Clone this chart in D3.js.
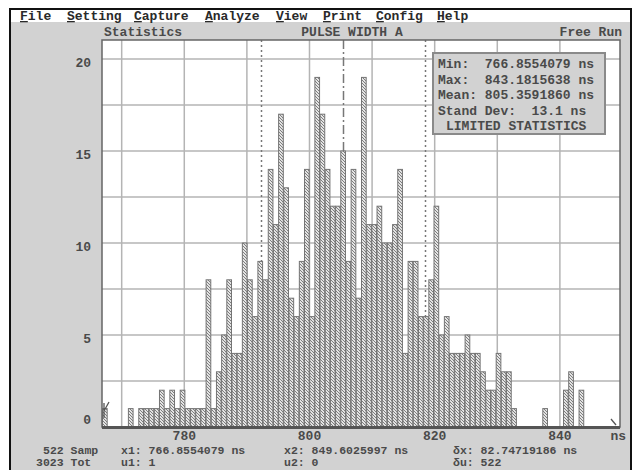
<!DOCTYPE html>
<html><head><meta charset="utf-8">
<script src="https://cdn.jsdelivr.net/npm/d3@7/dist/d3.min.js"></script>
<style>
html,body{margin:0;padding:0;background:#fff;}
svg{display:block;}
text{font-family:"Liberation Mono","DejaVu Sans Mono",monospace;font-size:13px;font-weight:bold;fill:#4a4a4a;}
text.foot{font-size:11.5px;}
</style></head><body>
<svg id="c" width="637" height="470"></svg>
<script>
// ---- data ----
const menuItems = ["File", "Setting", "Capture", "Analyze", "View", "Print", "Config", "Help"];
const menuX = [20, 67, 134, 205, 276, 323, 376, 437];
const cursorX1 = 766.8554079;
const cursorX2 = 849.6025997;
const binsAcross = 100;
// sample counts per bin, starting at cursor x1
const counts = [
  1,0,0,0,0,1,0,1,1,1, 1,2,1,2,1,2,1,1,1,1,
  8,1,3,5,8,4,4,10,8,6, 9,8,14,11,17,13,7,6,9,14,
  6,19,17,14,12,12,15,9,14,7, 19,11,11,12,10,10,11,14,4,9,
  9,6,6,8,12,5,6,4,4,4, 5,4,4,3,2,2,4,3,3,1,
  0,0,0,0,0,1,0,0,0,2, 3,0,2
];
const xTickValues = [780, 800, 820, 840];
const xGridValues = [770, 780, 790, 800, 810, 820, 830, 840];
const yTickValues = [0, 5, 10, 15, 20];
const yGridValues = [2.5, 5, 7.5, 10, 12.5, 15, 17.5, 20];
const statLabels = ["Min:  ", "Max:  ", "Mean: ", "Stand Dev:  "];
const statValues = ["766.8554079", "843.1815638", "805.3591860", "13.1"];
const statMean = 805.3591860;
const statStd = 13.1;
const footRow1 = [["522 Samp", 43], ["x1: 766.8554079 ns", 121], ["x2: 849.6025997 ns", 284], ["δx: 82.74719186 ns", 453]];
const footRow2 = [["3023 Tot", 36], ["u1: 1", 121], ["u2: 0", 284], ["δu: 522", 453]];

// ---- layout ----
const svg = d3.select("#c");
const plot = {left: 102, right: 620, top: 40, bottom: 427};

const x = d3.scaleLinear().domain([cursorX1, cursorX2]).range([plot.left, plot.right]);
const y = d3.scaleLinear().domain([0, 20]).range([plot.bottom, 59]);
const binW = (cursorX2 - cursorX1) / binsAcross;

const defs = svg.append("defs");
const pat = defs.append("pattern").attr("id", "hatch")
  .attr("patternUnits", "userSpaceOnUse").attr("width", 3).attr("height", 3);
pat.append("rect").attr("width", 3).attr("height", 3).attr("fill", "#e4e4e4");
pat.append("path").attr("d", "M-1,-1 L4,4 M-1,2 L1,4 M2,-1 L4,1")
  .attr("stroke", "#7e7e7e").attr("stroke-width", 1);

// window frame and background
svg.append("rect").attr("x", 0).attr("y", 0).attr("width", 637).attr("height", 470).attr("fill", "#fff");
svg.append("rect").attr("x", 10).attr("y", 9).attr("width", 621).attr("height", 470)
  .attr("fill", "#d2d2d2").attr("stroke", "#111").attr("stroke-width", 2);
svg.append("rect").attr("x", 11).attr("y", 10).attr("width", 619).attr("height", 12).attr("fill", "#fff");

// menu
const menu = svg.append("g");
menuItems.forEach((m, i) => {
  const t = menu.append("text").attr("x", menuX[i]).attr("y", 20).style("fill", "#2a2a2a");
  t.append("tspan").attr("text-decoration", "underline").text(m[0]);
  t.append("tspan").text(m.slice(1));
});

// title row
svg.append("text").attr("x", 143).attr("y", 36).attr("text-anchor", "middle").text("Statistics");
svg.append("text").attr("x", 352).attr("y", 36).attr("text-anchor", "middle").text("PULSE WIDTH A");
svg.append("text").attr("x", 622).attr("y", 36).attr("text-anchor", "end").text("Free Run");

// plot area
svg.append("rect").attr("x", plot.left).attr("y", plot.top)
  .attr("width", plot.right - plot.left).attr("height", plot.bottom - plot.top).attr("fill", "#fff");

const grid = svg.append("g").attr("stroke", "#b4b4b4").attr("stroke-width", 1.5);
grid.selectAll("line.h").data(yGridValues).join("line")
  .attr("x1", plot.left).attr("x2", plot.right).attr("y1", d => y(d)).attr("y2", d => y(d));
grid.selectAll("line.v").data(xGridValues).join("line").attr("class", "v")
  .attr("y1", plot.top).attr("y2", plot.bottom).attr("x1", d => x(d)).attr("x2", d => x(d));

// mean and ±1 std markers
const markers = svg.append("g").attr("stroke", "#777").attr("stroke-width", 1.5).attr("fill", "none");
[[statMean - statStd, "2,3"], [statMean + statStd, "2,3"], [statMean, "9,3,2,3"]].forEach(([v, dash]) => {
  markers.append("line").attr("x1", Math.round(x(v)) + 0.5).attr("x2", Math.round(x(v)) + 0.5)
    .attr("y1", plot.top).attr("y2", plot.bottom).attr("stroke-dasharray", dash);
});

// histogram bars
svg.append("g").selectAll("rect").data(counts.map((c, i) => ({c, i})).filter(d => d.c > 0)).join("rect")
  .attr("x", d => x(cursorX1 + d.i * binW) + 0.5)
  .attr("width", d => x(cursorX1 + (d.i + 1) * binW) - x(cursorX1 + d.i * binW) - 0.5)
  .attr("y", d => y(d.c))
  .attr("height", d => y(0) - y(d.c))
  .attr("fill", "url(#hatch)").attr("stroke", "#747474").attr("stroke-width", 1);

// frame
svg.append("rect").attr("x", plot.left).attr("y", plot.top)
  .attr("width", plot.right - plot.left).attr("height", plot.bottom - plot.top)
  .attr("fill", "none").attr("stroke", "#666").attr("stroke-width", 1.5);
svg.append("line").attr("x1", plot.left).attr("x2", plot.right).attr("y1", plot.bottom + 0.5).attr("y2", plot.bottom + 0.5)
  .attr("stroke", "#555").attr("stroke-width", 3);

// cursor marks
svg.append("path").attr("d", `M${x(cursorX1) + 2},403 L${x(cursorX1) + 2},418 M${x(cursorX1) + 2},411 L${x(cursorX1) + 7},402`)
  .attr("stroke", "#555").attr("stroke-width", 1.3).attr("fill", "none");
svg.append("path").attr("d", `M${x(cursorX2) - 9},419 L${x(cursorX2) - 4},425`)
  .attr("stroke", "#555").attr("stroke-width", 1.3).attr("fill", "none");

// axis labels
svg.append("g").selectAll("text").data(yTickValues).join("text")
  .attr("x", 91).attr("y", d => d === 0 ? y(d) - 3 : y(d) + 8).attr("text-anchor", "end").text(d => d);
svg.append("g").selectAll("text").data(xTickValues).join("text")
  .attr("x", d => x(d)).attr("y", 440).attr("text-anchor", "middle").text(d => d);
svg.append("text").attr("x", 626).attr("y", 440).attr("text-anchor", "end").text("ns");

// statistics box
const box = svg.append("g");
box.append("rect").attr("x", 433).attr("y", 53).attr("width", 172).attr("height", 81)
  .attr("fill", "#d2d2d2").attr("stroke", "#8a8a8a").attr("stroke-width", 2);
statLabels.forEach((l, i) => {
  box.append("text").attr("x", 438).attr("y", 68 + i * 15.5).attr("xml:space", "preserve")
    .text(l + statValues[i] + " ns");
});
box.append("text").attr("x", 446).attr("y", 130).text("LIMITED STATISTICS");

// footer readouts
footRow1.forEach(([t, px]) => svg.append("text").attr("class", "foot").attr("x", px).attr("y", 454).attr("xml:space", "preserve").text(t));
footRow2.forEach(([t, px]) => svg.append("text").attr("class", "foot").attr("x", px).attr("y", 466).attr("xml:space", "preserve").text(t));
</script>
</body></html>
